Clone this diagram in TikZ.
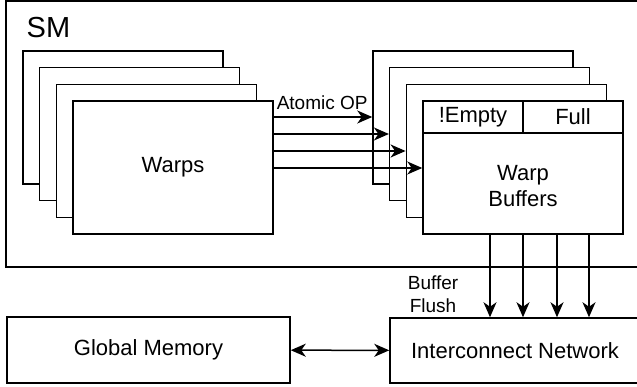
\documentclass[tikz,border=0pt]{standalone}
\usepackage{fontspec}
\setmainfont{Liberation Sans}
\usetikzlibrary{arrows.meta,calc,positioning}

\begin{document}
\begin{tikzpicture}[x=1pt,y=-1pt,line width=1.5pt,
	box/.style={draw,fill=white,rectangle,inner sep=0pt,minimum width=200pt,minimum height=133pt},
	cell/.style={draw,rectangle,inner sep=0pt,minimum width=100pt,minimum height=32pt},
	big/.style={font=\fontsize{22}{26}\selectfont},
	small/.style={font=\fontsize{19}{23}\selectfont},
	arr/.style={-{Stealth[length=15pt,width=13pt,inset=4.5pt]}},
	darr/.style={{Stealth[length=15pt,width=13pt,inset=4.5pt]}-{Stealth[length=15pt,width=13pt,inset=4.5pt]}}]
		\clip (0,0) rectangle (637,387);
		% SM frame (runs off the right side)
		\draw (6,1) rectangle (645,267);
		\node[anchor=base west,inner sep=0pt,font=\fontsize{29}{32}\selectfont] (sm) at (26,38) {SM};
		% warps stack
		\foreach \i in {0,1,2} {
			\node[box] (w\i) at ({123+16.67*\i},{117.5+16.67*\i}) {};
		}
		\node[box,big] (w3) at (173,167.5) {Warps};
		% buffer stack
		\foreach \i in {0,1,2} {
			\node[box] (buf\i) at ({473+16.67*\i},{117.5+16.67*\i}) {};
		}
		\node[box] (buf3) at (523,167.5) {};
		\node[cell,big,anchor=north west] (emp) at (buf3.north west) {!Empty};
		\node[cell,big,anchor=north east] (full) at (buf3.north east) {Full};
		\node[big,align=center] (wb) at (523,186) {Warp\\Buffers};
		% atomic ops into the buffers
		\draw[arr] (w3.east |- 0,117) -- (buf0.west |- 0,117);
		\draw[arr] (w3.east |- 0,134) -- (buf1.west |- 0,134);
		\draw[arr] (w3.east |- 0,151) -- (buf2.west |- 0,151);
		\draw[arr] (w3.east |- 0,168) -- (buf3.west |- 0,168);
		\node[small,anchor=base west,inner sep=0pt] (aop) at (276,110) {Atomic OP};
		% memory side
		\node[draw,rectangle,inner sep=0pt,minimum width=283pt,minimum height=66pt,big] (gmem) at (148.5,350) {Global Memory};
		\node[draw,rectangle,inner sep=0pt,minimum width=250pt,minimum height=65pt,big] (net) at (515,350.5) {Interconnect Network};
		\draw[darr] (gmem) -- (net);
		\foreach \x in {490,523,557,589}
			\draw[arr] (buf3.south -| \x,0) -- (net.north -| \x,0);
		\node[small,align=center] (flush) at (433,294) {Buffer\\Flush};
	\end{tikzpicture}
\end{document}
